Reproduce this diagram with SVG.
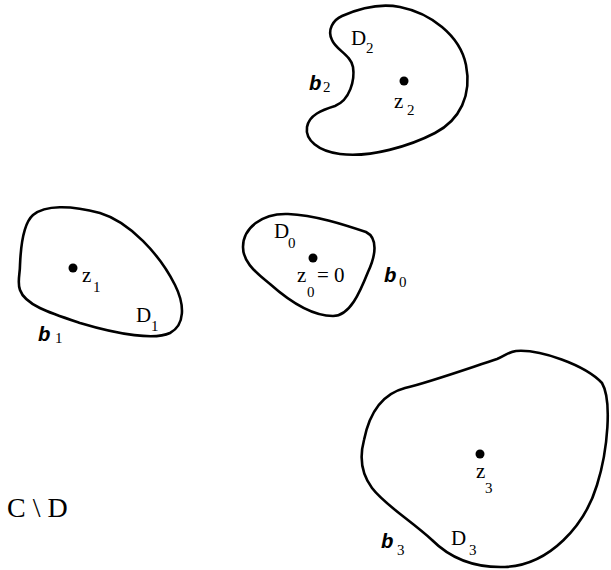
<svg xmlns="http://www.w3.org/2000/svg" width="611" height="570" viewBox="0 0 611 570">
<style>
.b{fill:none;stroke:#000;stroke-width:2.6}
text{font-family:"Liberation Serif","Times New Roman",serif;fill:#000}
.m{font-size:21px}
.s{font-size:15px}
.bb{font-family:"Liberation Mono","Courier New",monospace;font-weight:bold;font-style:italic;font-size:21px}
</style>
<rect width="611" height="570" fill="#fff"/>
<g id="D2">
<path class="b" d="M332,40 C327,30 333,20 342,16 C360,8 380,3 400,7 C430,13 460,35 466,65 C472,95 460,120 435,133 C410,146 370,158 340,154 C318,151 305,140 307,127 C309,115 322,110 335,106 C350,100 355,80 353,67 C351,55 336,50 332,40 Z"/>
<circle cx="404" cy="81" r="4.5"/>
<text class="m" x="351" y="45">D</text><text class="s" x="366" y="53">2</text>
<text class="bb" x="309" y="90">b</text><text class="s" x="323" y="92">2</text>
<text class="m" x="394" y="108">z</text><text class="s" x="407" y="115">2</text>
</g>
<g id="D1">
<path class="b" d="M33,215 C45,205 70,205 100,213 C130,222 160,255 175,285 C185,305 185,325 170,333 C155,340 120,335 80,323 C50,313 25,305 20,290 C17,282 20,275 20,265 C21,240 25,222 33,215 Z"/>
<circle cx="73" cy="268" r="4.5"/>
<text class="m" x="82" y="282">z</text><text class="s" x="93" y="292">1</text>
<text class="m" x="136" y="322">D</text><text class="s" x="151" y="331">1</text>
<text class="bb" x="38" y="341">b</text><text class="s" x="55" y="343">1</text>
</g>
<g id="D0">
<path class="b" d="M243,247 C243,228 262,213 288,214 C315,215 345,225 366,232 C378,238 376,255 368,272 C360,292 350,316 333,316 C312,316 288,300 270,284 C252,270 243,260 243,247 Z"/>
<circle cx="313" cy="258" r="4.5"/>
<text class="m" x="274" y="238">D</text><text class="s" x="288" y="248">0</text>
<text class="m" x="297" y="282">z</text><text class="m" x="317" y="282">= 0</text><text class="s" x="307" y="297">0</text>
<text class="bb" x="384" y="282">b</text><text class="s" x="399" y="287">0</text>
</g>
<g id="D3">
<path class="b" d="M405,388 C430,382 475,366 497,359 C505,356 508,352 516,351 C540,349 585,365 602,383 C612,400 608,450 597,485 C585,525 550,565 505,567 C475,568 450,558 432,540 C410,520 385,505 372,488 C360,472 360,455 364,440 C368,420 378,395 405,388 Z"/>
<circle cx="480" cy="454" r="4.5"/>
<text class="m" x="476" y="478">z</text><text class="s" x="485" y="493">3</text>
<text class="m" x="451" y="545">D</text><text class="s" x="469" y="555">3</text>
<text class="bb" x="381" y="548">b</text><text class="s" x="397" y="555">3</text>
</g>
<g id="complement">
<text x="7" y="517" font-size="28">C \ D</text>
</g>
<g id="connectors"/>
</svg>
